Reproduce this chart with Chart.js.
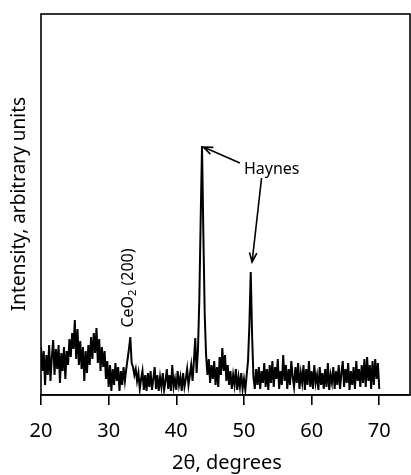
<!DOCTYPE html>
<html>
<head>
<meta charset="utf-8">
<script src="https://cdn.jsdelivr.net/npm/chart.js@4.4.1/dist/chart.umd.min.js"></script>
<style>
  html, body { margin: 0; padding: 0; background: #fff; }
  canvas { display: block; }
</style>
</head>
<body>
<canvas id="xrd" width="411" height="475"></canvas>
<script>
// 2-theta sampling grid of the scan (degrees)
const twoThetaStart = 20
const twoThetaStep  = 0.2

// intensity, one row per 2 degrees (20.0 .. 70.0)
const intensity = [
  48, 24, 44, 10, 40, 20, 50, 14, 38, 55,    // 20
  20, 46, 26, 50, 12, 42, 24, 48, 16, 44,    // 22
  30, 56, 38, 62, 46, 75, 36, 66, 30, 54,    // 24
  26, 48, 14, 44, 22, 50, 30, 58, 36, 62,    // 26
  42, 67, 32, 56, 24, 48, 28, 44, 16, 34,    // 28
  8, 30, 4, 26, 10, 32, 14, 28, 4, 24,       // 30
  10, 28, 14, 26, 36, 46, 58, 32, 28, 20,    // 32  CeO2 (200)
  26, 14, 22, 6, 16, 24, 5, 20, 4, 22,       // 34
  8, 24, 5, 16, 28, 6, 20, 4, 18, 8,         // 36
  22, 5, 14, 26, 6, 20, 4, 30, 8, 16,        // 38
  5, 24, 10, 18, 4, 22, 8, 16, 26, 10,       // 40
  20, 30, 14, 34, 57, 22, 45, 95, 175, 249,  // 42  Haynes
  160, 80, 40, 20, 36, 12, 30, 16, 34, 10,   // 44
  28, 8, 38, 20, 47, 24, 40, 14, 30, 10,     // 46
  24, 6, 20, 10, 26, 5, 18, 8, 22, 6,        // 48
  16, 5, 20, 34, 70, 123, 60, 18, 6, 26,     // 50  Haynes
  10, 28, 6, 24, 12, 32, 8, 26, 5, 30,       // 52
  12, 34, 8, 28, 16, 36, 6, 24, 10, 40,      // 54
  14, 30, 6, 26, 10, 34, 18, 8, 28, 12,      // 56
  32, 6, 22, 12, 30, 5, 26, 10, 34, 8,       // 58
  24, 6, 30, 12, 20, 5, 28, 10, 22, 6,       // 60
  26, 8, 32, 5, 20, 12, 28, 6, 24, 10,       // 62
  30, 6, 22, 34, 8, 26, 12, 32, 5, 24,       // 64
  10, 28, 6, 34, 14, 26, 8, 30, 12, 36,      // 66
  8, 38, 14, 30, 6, 34, 10, 36, 16, 32,      // 68
  6                                          // 70
]

const xTicks = [20, 30, 40, 50, 60, 70]
const xTitle = '2θ, degrees'
const yTitle = 'Intensity, arbitrary units'

// annotations in data coordinates
const haynesLabel = { x: 54.1, y: 226 }
const haynesArrows = [
  { from: { x: 49.4, y: 232 }, to: { x: 44.0, y: 248 } },
  { from: { x: 52.6, y: 217 }, to: { x: 51.2, y: 133 } },
]
const ceriaLabel = { x: 32.85, y: 107 }

const FONT = '"Noto Sans", "DejaVu Sans", sans-serif'

function drawArrow(ctx, x1, y1, x2, y2) {
  const a = Math.atan2(y2 - y1, x2 - x1)
  const len = 10, spread = 0.38
  ctx.beginPath()
  ctx.moveTo(x1, y1); ctx.lineTo(x2, y2)
  ctx.moveTo(x2 - len * Math.cos(a - spread), y2 - len * Math.sin(a - spread))
  ctx.lineTo(x2, y2)
  ctx.lineTo(x2 - len * Math.cos(a + spread), y2 - len * Math.sin(a + spread))
  ctx.stroke()
}

const decorations = {
  id: 'decorations',
  afterDraw(chart) {
    const { ctx, chartArea: ca, scales: { x, y } } = chart
    ctx.save()
    ctx.strokeStyle = '#000'
    ctx.fillStyle = '#000'

    // frame
    ctx.lineWidth = 1.6
    ctx.strokeRect(ca.left, ca.top, ca.right - ca.left, ca.bottom - ca.top)

    // axis titles
    ctx.font = '20px ' + FONT
    ctx.textAlign = 'center'
    ctx.textBaseline = 'middle'
    ctx.fillText(xTitle, 227, 463)
    ctx.save()
    ctx.translate(20, 204)
    ctx.rotate(-Math.PI / 2)
    ctx.font = '19px ' + FONT
    ctx.fillText(yTitle, 0, 0)
    ctx.restore()

    // Haynes label and arrows
    ctx.font = '16px ' + FONT
    ctx.fillText('Haynes', x.getPixelForValue(haynesLabel.x), y.getPixelForValue(haynesLabel.y))
    ctx.lineWidth = 1.6
    haynesArrows.forEach(a => drawArrow(ctx,
      x.getPixelForValue(a.from.x), y.getPixelForValue(a.from.y),
      x.getPixelForValue(a.to.x), y.getPixelForValue(a.to.y)))

    // CeO2 (200) label, vertical
    ctx.save()
    ctx.translate(x.getPixelForValue(ceriaLabel.x), y.getPixelForValue(ceriaLabel.y))
    ctx.rotate(-Math.PI / 2)
    ctx.textAlign = 'left'
    ctx.textBaseline = 'middle'
    const big = '16px ' + FONT, small = '11px ' + FONT
    ctx.font = big
    const w1 = ctx.measureText('CeO').width
    ctx.font = small
    const w2 = ctx.measureText('2').width
    ctx.font = big
    const w3 = ctx.measureText(' (200)').width
    let cx = -(w1 + w2 + w3) / 2
    ctx.fillText('CeO', cx, 0); cx += w1
    ctx.font = small
    ctx.fillText('2', cx, 5); cx += w2
    ctx.font = big
    ctx.fillText(' (200)', cx, 0)
    ctx.restore()

    ctx.restore()
  },
}

new Chart(document.getElementById('xrd'), {
  type: 'line',
  data: {
    datasets: [{
      data: intensity.map((v, i) => ({ x: +(twoThetaStart + i * twoThetaStep).toFixed(1), y: v })),
      borderColor: '#000',
      borderWidth: 2,
      pointRadius: 0,
      tension: 0,
      fill: false,
    }],
  },
  options: {
    responsive: false,
    animation: false,
    layout: { padding: { top: 14, left: 41, right: 1, bottom: 0 } },
    plugins: { legend: { display: false }, tooltip: { enabled: false } },
    scales: {
      x: {
        type: 'linear', min: 20, max: 74.54,
        afterBuildTicks: s => { s.ticks = xTicks.map(v => ({ value: v })) },
        afterFit: s => { s.height = 80 },
        grid: { drawOnChartArea: false, drawTicks: true, tickLength: 10, color: '#000', lineWidth: 1.6 },
        border: { display: true, color: '#000', width: 1.6 },
        ticks: { font: { family: FONT, size: 20 }, color: '#000', padding: 14, maxRotation: 0 },
      },
      y: { display: false, min: 0, max: 381 },
    },
  },
  plugins: [decorations],
})
</script>
</body>
</html>
